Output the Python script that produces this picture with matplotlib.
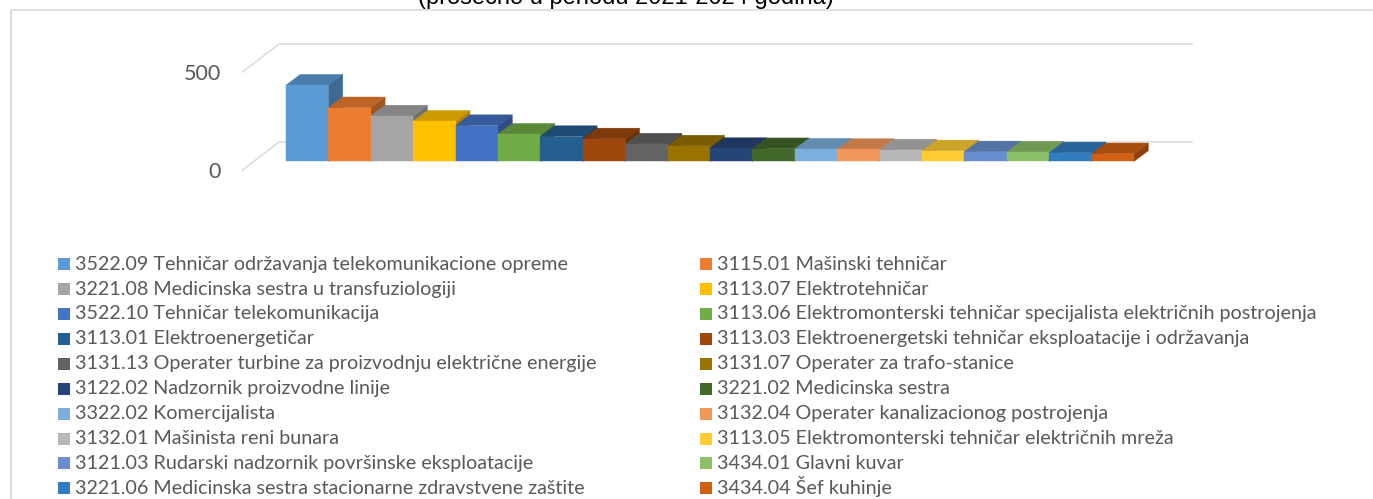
import matplotlib
matplotlib.use("Agg")
import matplotlib.pyplot as plt
from matplotlib.patches import Polygon, Rectangle
from matplotlib.transforms import Affine2D
from matplotlib.colors import to_rgb

W, H = 1373, 499
labels = [
    "3522.09 Tehničar održavanja telekomunikacione opreme",
    "3115.01 Mašinski tehničar",
    "3221.08 Medicinska sestra u transfuziologiji",
    "3113.07 Elektrotehničar",
    "3522.10 Tehničar telekomunikacija",
    "3113.06 Elektromonterski tehničar specijalista električnih postrojenja",
    "3113.01 Elektroenergetičar",
    "3113.03 Elektroenergetski tehničar eksploatacije i održavanja",
    "3131.13 Operater turbine za proizvodnju električne energije",
    "3131.07 Operater za trafo-stanice",
    "3122.02 Nadzornik proizvodne linije",
    "3221.02 Medicinska sestra",
    "3322.02 Komercijalista",
    "3132.04 Operater kanalizacionog postrojenja",
    "3132.01 Mašinista reni bunara",
    "3113.05 Elektromonterski tehničar električnih mreža",
    "3121.03 Rudarski nadzornik površinske eksploatacije",
    "3434.01 Glavni kuvar",
    "3221.06 Medicinska sestra stacionarne zdravstvene zaštite",
    "3434.04 Šef kuhinje",
]
values = [389, 274, 232, 205, 183, 139, 127, 115, 89, 79,
          66, 65, 63, 61, 59, 54, 49, 48, 44, 39]
colors = ["#5B9BD5", "#ED7D31", "#A5A5A5", "#FFC000", "#4472C4", "#70AD47", "#255E91", "#9E480E", "#636363", "#997300",
          "#264478", "#43682B", "#7CAFDD", "#F1975A", "#B7B7B7", "#FFCD33", "#698ED0", "#8CC168", "#327DC2", "#D26012"]
title = "(prosečno u periodu 2021-2024 godina)"
ticks = [0, 500]

PX_PER_UNIT = 0.196
BAR_PX = 42.4
DX = 14.3 / BAR_PX
DY = 10.7 / PX_PER_UNIT
GRID = "#D9D9D9"
TXT = "#595959"

def shade(c, f):
    return tuple(v * f for v in to_rgb(c))

fig = plt.figure(figsize=(W / 100, H / 100), dpi=100, facecolor="white")
px = Affine2D().scale(1, -1).translate(0, H)

# value axes sitting on the front edge of the floor: carries ticks
ax_f = fig.add_axes([243 / W, 1 - 170 / H, (1192 - 243) / W, 98 / H])
ax_f.set_ylim(0, 500)
ax_f.set_xlim(0, 1)
ax_f.set_xticks([])
ax_f.set_yticks(ticks)
ax_f.set_yticklabels([str(t) for t in ticks], family="Lato", fontsize=15.5, color=TXT)
ax_f.tick_params(axis="y", length=0, pad=16)
ax_f.patch.set_alpha(0)
for s in ax_f.spines.values():
    s.set_visible(False)

# bar axes: full figure, category x and value y
ax = fig.add_axes([0, 0, 1, 1])
ax.patch.set_alpha(0)
ax.axis("off")
x0 = 286 + BAR_PX / 2
ax.set_xlim(-x0 / BAR_PX, (W - x0) / BAR_PX)
ax.set_ylim((161.4 - H) / PX_PER_UNIT, 161.4 / PX_PER_UNIT)

# walls
for t in ticks:
    yf = 170 - t * PX_PER_UNIT
    yb = 142 - t * PX_PER_UNIT
    ax.plot([242.5, 279, 1192], [yf, yb, yb], transform=px, color=GRID, lw=1.1, zorder=1)

# frame
ax.plot([10.5, 10.5], [H, 9.5], transform=px, color=GRID, lw=1.4, zorder=1, solid_capstyle="butt")
ax.plot([10.5, W], [9.5, 9.5], transform=px, color=GRID, lw=1.1, zorder=1, solid_capstyle="butt")

for i, (v, c) in enumerate(zip(values, colors)):
    z = 5 + i
    l, r = i - 0.5, i + 0.5
    side, top = shade(c, 0.68), shade(c, 0.8)
    ax.add_patch(Polygon([(r, 0), (r + DX, DY), (r + DX, v + DY), (r, v)], closed=True, fc=side, ec=side, lw=0.3, zorder=z))
    ax.add_patch(Polygon([(l, v), (l + DX, v + DY), (r + DX, v + DY), (r, v)], closed=True, fc=top, ec=top, lw=0.3, zorder=z))
    ax.bar(i, v, width=1.0, color=c, edgecolor=c, linewidth=0.3, zorder=z)

# legend, two columns read row-wise
for i, (lab, c) in enumerate(zip(labels, colors)):
    row, col = divmod(i, 2)
    sx = 58 if col == 0 else 700
    ax.add_patch(Rectangle((sx, 258.2 + 24.9 * row), 12, 12, transform=px, fc=c, ec="none", zorder=3))
    ax.text(sx + 17, 269.7 + 24.9 * row, lab, transform=px, family="Lato", fontsize=14.2, color=TXT, ha="left", va="baseline")

fig.text(626 / W, 1 - 4 / H, title, family="Liberation Sans", fontsize=17, color="black", ha="center", va="baseline")
fig.savefig("out.png", dpi=100)
